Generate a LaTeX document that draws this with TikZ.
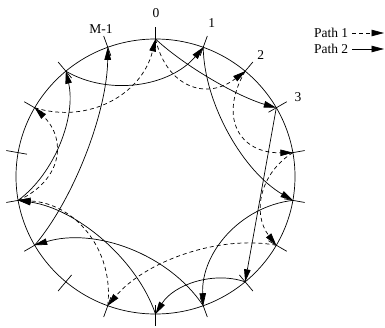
\documentclass[tikz,border=0pt]{standalone}
\usepackage{fontspec}
\setmainfont{Liberation Serif}
\usetikzlibrary{calc,arrows.meta}
\newcommand{\bowline}[4]{%
  \draw[#1] (#2) .. controls ($(#2)!0.28!(#3)!#4*1.3333pt!-90:(#3)$)
    and ($(#3)!0.28!(#2)!#4*1.3333pt!90:(#2)$) .. (#3);}
\begin{document}
\begin{tikzpicture}[x=1pt,y=1pt,
  line width=0.7pt,
  tip/.style={-{Triangle[length=12.5pt,width=6.5pt]}},
  p1/.style={tip,dash pattern=on 4pt off 3pt},
  p2/.style={tip},
  lbl/.style={font=\fontsize{13.5}{16}\selectfont,inner sep=0pt}]
\useasboundingbox (-155.5,-150.5) rectangle (229.5,176.5);
\draw (0,0) ellipse [x radius=139.5, y radius=137.5];
\foreach \k in {0,...,17}{
  \coordinate (n\k) at ({90-20*\k}:139.5 and 137.5);
  \draw ({90-20*\k}:130.5 and 128.5) -- ({90-20*\k}:151.5 and 149.5);
}
% labels
\node[lbl] (t0) at (0.5,163) {0};
\node[lbl] (t1) at (56.2,153.5) {1};
\node[lbl] (t2) at (105.2,121.5) {2};
\node[lbl] (t3) at (142.5,79.8) {3};
\node[lbl] (tm) at (-54.5,147.5) {M-1};
% Path 2 (solid)
\bowline{p2}{n0}{n3}{7}
\bowline{p2}{n3}{n7}{0}
\bowline{p2}{n7}{n9}{16}
\bowline{p2}{n9}{n13}{23}
\bowline{p2}{n13}{n16}{19}
\bowline{p2}{n16}{n1}{24.5}
\bowline{p2}{n1}{n5}{21}
\bowline{p2}{n5}{n8}{27}
\bowline{p2}{n8}{n12}{28}
\bowline{p2}{n12}{n17}{16}
% Path 1 (dashed)
\bowline{p1}{n0}{n2}{31}
\bowline{p1}{n2}{n4}{35}
\bowline{p1}{n4}{n6}{22}
\bowline{p1}{n6}{n10}{22}
\bowline{p1}{n10}{n13}{31}
\bowline{p1}{n13}{n15}{29}
\bowline{p1}{n15}{n0}{31}
% legend
\node[lbl,anchor=east] (lg1) at (193,143.5) {Path 1};
\node[lbl,anchor=east] (lg2) at (193,127.5) {Path 2};
\coordinate (l1a) at (196.5,143.5);
\coordinate (l1b) at (228.5,143.5);
\coordinate (l2a) at (196.5,127.5);
\coordinate (l2b) at (228.5,127.5);
\draw[p1] (l1a) -- (l1b);
\draw[p2] (l2a) -- (l2b);
\end{tikzpicture}
\end{document}
